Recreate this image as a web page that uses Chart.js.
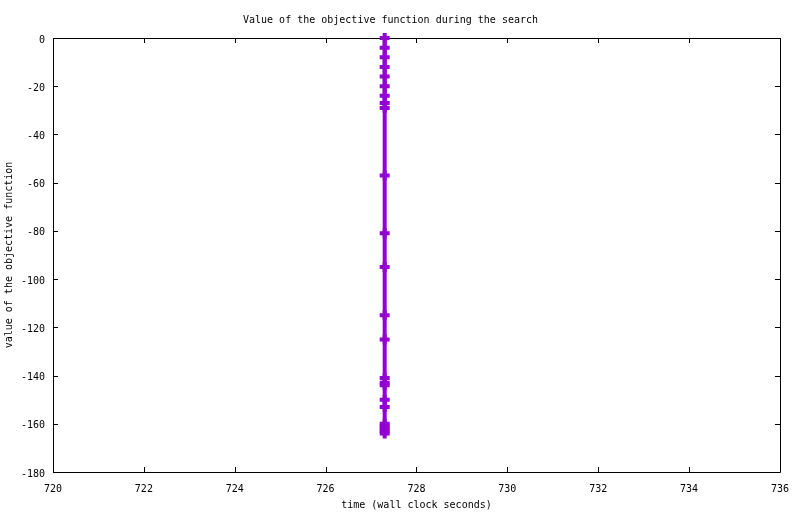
<!DOCTYPE html>
<html>
<head>
<meta charset="utf-8">
<script src="https://cdn.jsdelivr.net/npm/chart.js@4/dist/chart.umd.min.js"></script>
<style>
html,body{margin:0;padding:0;background:#fff;}
#wrap{width:800px;height:514px;position:relative;}
</style>
</head>
<body>
<div id="wrap"><canvas id="c" width="800" height="514"></canvas></div>
<script>
// Data
const timeSeconds = [727.3,727.3,727.3,727.3,727.3,727.3,727.3,727.3,727.3,727.3,727.3,727.3,727.3,727.3,727.3,727.3,727.3,727.3,727.3,727.3,727.3,727.3,727.3,727.3];
const objectiveValues = [0,-4,-8,-12,-16,-20,-24,-27,-29,-57,-81,-95,-115,-125,-141,-143,-144,-150,-153,-160,-161,-162,-163,-164];
const xTicks = [720,722,724,726,728,730,732,734,736];
const yTicks = [0,-20,-40,-60,-80,-100,-120,-140,-160,-180];
const chartTitle = 'Value of the objective function during the search';
const xTitle = 'time (wall clock seconds)';
const yTitle = 'value of the objective function';

const FONT = {family: '"DejaVu Sans Mono", "Liberation Mono", monospace', size: 10, weight: 'normal'};
const points = timeSeconds.map((t, i) => ({x: t, y: objectiveValues[i]}));

const frame = {
  id: 'frame',
  beforeDatasetsDraw(chart) {
    const {ctx, chartArea: a, scales: {x, y}} = chart;
    ctx.save();
    ctx.strokeStyle = '#000';
    ctx.lineWidth = 1;
    ctx.beginPath();
    ctx.rect(Math.round(a.left) + 0.5, Math.round(a.top) + 0.5, Math.round(a.right - a.left), Math.round(a.bottom - a.top));
    const L = 5;
    xTicks.forEach(v => {
      const px = Math.round(x.getPixelForValue(v)) + 0.5;
      ctx.moveTo(px, a.bottom); ctx.lineTo(px, a.bottom - L);
      ctx.moveTo(px, a.top); ctx.lineTo(px, a.top + L);
    });
    yTicks.forEach(v => {
      const py = Math.round(y.getPixelForValue(v)) + 0.5;
      ctx.moveTo(a.left, py); ctx.lineTo(a.left + L, py);
      ctx.moveTo(a.right, py); ctx.lineTo(a.right - L, py);
    });
    ctx.stroke();
    ctx.restore();
  }
};

new Chart(document.getElementById('c'), {
  type: 'scatter',
  data: {
    datasets: [{
      data: points,
      showLine: true,
      clip: false,
      borderColor: '#9400d3',
      backgroundColor: '#9400d3',
      borderWidth: 4,
      pointStyle: 'cross',
      pointRadius: 5,
      pointBorderWidth: 4,
      pointHoverRadius: 5,
      pointBorderColor: '#9400d3'
    }]
  },
  options: {
    responsive: false,
    animation: false,
    layout: {padding: {left: 0, right: 19, top: 0, bottom: 0}},
    plugins: {
      legend: {display: false},
      tooltip: {enabled: false},
      title: {display: true, text: chartTitle, color: '#000', font: FONT, padding: {top: 14, bottom: 12}}
    },
    scales: {
      x: {
        type: 'linear', min: 720, max: 736,
        afterBuildTicks: s => { s.ticks = xTicks.map(v => ({value: v})); },
        afterFit: s => { s.height = 42; },
        grid: {display: false, drawTicks: false},
        border: {display: false},
        ticks: {color: '#000', font: FONT, padding: 11, maxRotation: 0},
        title: {display: true, text: xTitle, color: '#000', font: FONT, padding: {top: 0, bottom: 3}}
      },
      y: {
        type: 'linear', min: -180, max: 0,
        afterBuildTicks: s => { s.ticks = yTicks.map(v => ({value: v})); },
        afterFit: s => { s.width = 53; },
        grid: {display: false, drawTicks: false},
        border: {display: false},
        ticks: {color: '#000', font: FONT, padding: 8, labelOffset: 2},
        title: {display: true, text: yTitle, color: '#000', font: FONT, padding: {top: 3, bottom: 0}}
      }
    }
  },
  plugins: [frame]
});
</script>
</body>
</html>
